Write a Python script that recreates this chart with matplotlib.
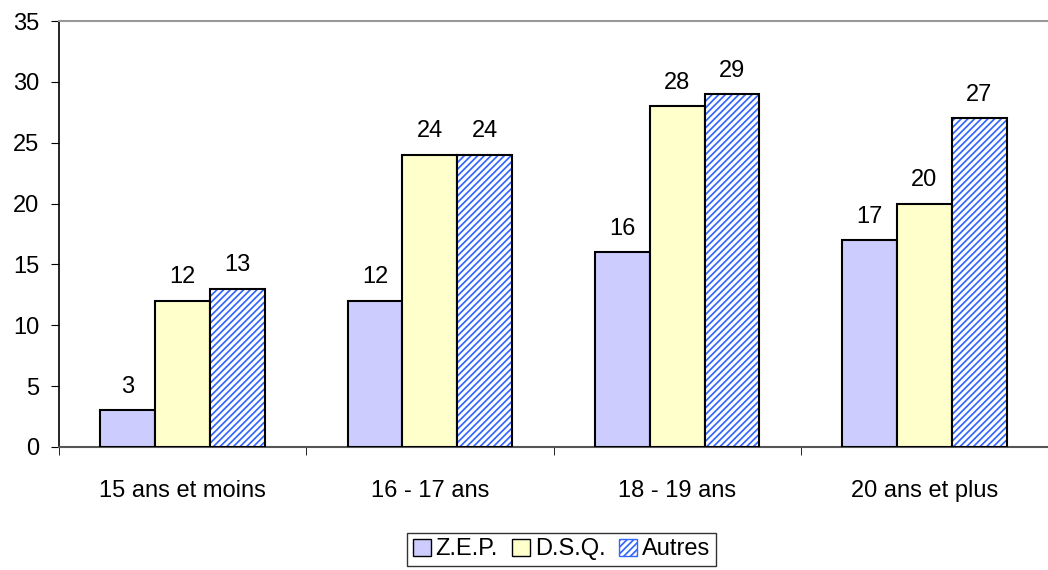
import matplotlib.pyplot as plt
import numpy as np
from matplotlib.patches import Patch

plt.rcParams['font.family'] = ['Liberation Sans', 'DejaVu Sans']
plt.rcParams['hatch.linewidth'] = 1.25

categories = ['15 ans et moins', '16 - 17 ans', '18 - 19 ans', '20 ans et plus']
zep = [3, 12, 16, 17]
dsq = [12, 24, 28, 20]
autres = [13, 24, 29, 27]

fs = 17
blue = '#3366ff'
fig = plt.figure(figsize=(10.48, 5.70), dpi=100)
ax = fig.add_axes([0.0563, 0.216, 0.9437, 0.747])

x = np.arange(len(categories))
w = 0.222

ax.bar(x - w, zep, w, color='#ccccff', edgecolor='black', linewidth=1.5, label='Z.E.P.', zorder=3)
ax.bar(x, dsq, w, color='#ffffcc', edgecolor='black', linewidth=1.5, label='D.S.Q.', zorder=3)
# hachures bleues puis contour noir par-dessus
ax.bar(x + w, autres, w, color='white', edgecolor=blue, hatch='/////', linewidth=0, zorder=3)
ax.bar(x + w, autres, w, fill=False, edgecolor='black', linewidth=1.5, zorder=4)

for off, vals in ((-w, zep), (0, dsq), (w, autres)):
    for xi, v in zip(x, vals):
        ax.annotate(str(v), (xi + off, v), xytext=(0, 9), textcoords='offset points',
                    ha='center', va='bottom', fontsize=fs)

ax.set_xlim(-0.5, 3.5)
ax.set_ylim(0, 35)
ax.set_yticks(range(0, 36, 5))
ax.set_xticks(x)
ax.set_xticklabels(categories)
ax.set_xticks(np.arange(-0.5, 4.0, 1), minor=True)
ax.tick_params(axis='x', which='major', length=0, pad=23.5, labelsize=fs)
ax.tick_params(axis='x', which='minor', length=6, direction='out')
ax.tick_params(axis='y', length=6, direction='out', labelsize=fs, pad=8)

ax.spines['top'].set_color('#999999')
ax.spines['top'].set_linewidth(1.5)
ax.spines['right'].set_visible(False)
ax.spines['left'].set_linewidth(1.2)
ax.spines['bottom'].set_color('#555555')
ax.spines['bottom'].set_linewidth(1.5)

handles = [Patch(facecolor='#ccccff', edgecolor='black'),
           Patch(facecolor='#ffffcc', edgecolor='black'),
           Patch(facecolor='white', edgecolor=blue, hatch='/////')]
leg = fig.legend(handles, ['Z.E.P.', 'D.S.Q.', 'Autres'], loc='center', bbox_to_anchor=(0.536, 0.036),
                 ncol=3, frameon=True, fancybox=False, edgecolor='black', fontsize=fs,
                 handlelength=0.75, handleheight=0.75, handletextpad=0.2, columnspacing=0.6,
                 borderpad=0.25, borderaxespad=0)
leg.get_frame().set_linewidth(1.0)

fig.savefig('out.png', dpi=100)
